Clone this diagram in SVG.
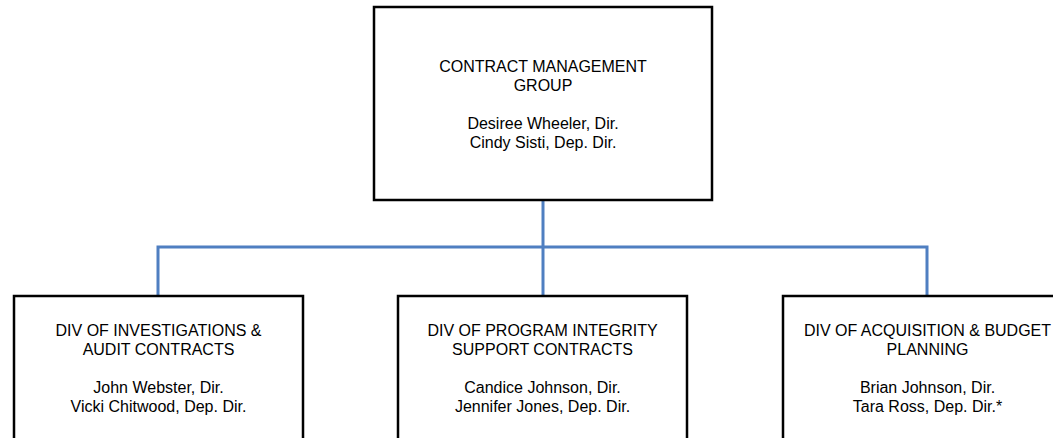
<svg xmlns="http://www.w3.org/2000/svg" width="1053" height="438" viewBox="0 0 1053 438">
<style>
.box{fill:#ffffff;stroke:#000000;stroke-width:2.5}
.conn{fill:none;stroke:#4f7fc1;stroke-width:3}
text{font-family:"Liberation Sans",Arial,sans-serif;font-size:16px;fill:#000000;text-anchor:middle}
</style>
<rect width="1053" height="438" fill="#ffffff"/>
<g id="connectors">
<path class="conn" d="M543 200 V296"/>
<path class="conn" d="M158 296 V247 H927 V296"/>
</g>
<g id="cmg">
<rect class="box" x="374" y="7" width="338" height="193"/>
<text x="543" y="72">CONTRACT MANAGEMENT</text>
<text x="543" y="91">GROUP</text>
<text x="543" y="129">Desiree Wheeler, Dir.</text>
<text x="543" y="148">Cindy Sisti, Dep. Dir.</text>
</g>
<g id="diac">
<rect class="box" x="14" y="296" width="289" height="160"/>
<text x="158.5" y="336">DIV OF INVESTIGATIONS &amp;</text>
<text x="158.5" y="355">AUDIT CONTRACTS</text>
<text x="158.5" y="393">John Webster, Dir.</text>
<text x="158.5" y="412">Vicki Chitwood, Dep. Dir.</text>
</g>
<g id="dpisc">
<rect class="box" x="398" y="296" width="289" height="160"/>
<text x="542.5" y="336">DIV OF PROGRAM INTEGRITY</text>
<text x="542.5" y="355">SUPPORT CONTRACTS</text>
<text x="542.5" y="393">Candice Johnson, Dir.</text>
<text x="542.5" y="412">Jennifer Jones, Dep. Dir.</text>
</g>
<g id="dabp">
<rect class="box" x="783" y="296" width="289" height="160"/>
<text x="927.5" y="336">DIV OF ACQUISITION &amp; BUDGET</text>
<text x="927.5" y="355">PLANNING</text>
<text x="927.5" y="393">Brian Johnson, Dir.</text>
<text x="927.5" y="412">Tara Ross, Dep. Dir.*</text>
</g>
</svg>
